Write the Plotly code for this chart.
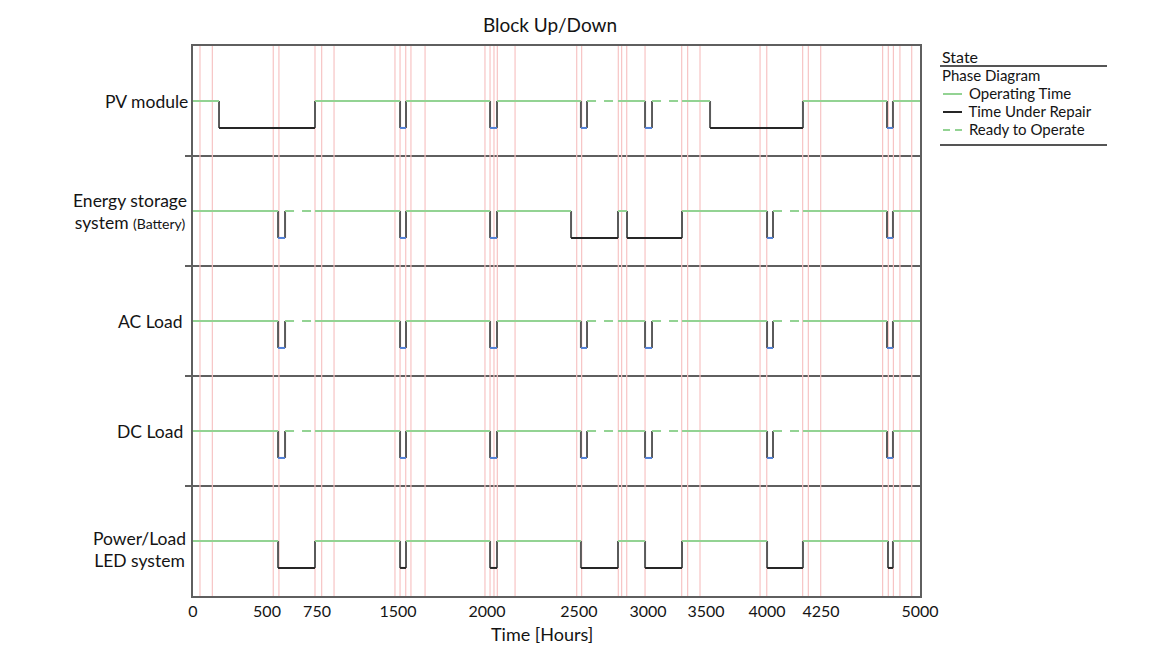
import plotly.graph_objects as go

# ---------------- data (hours) ----------------
components = ["PV module", "Energy storage system (Battery)", "AC Load", "DC Load", "Power/Load LED system"]
row_centers = [4, 3, 2, 1, 0]

# state codes: O = operating, R = under repair, W = short repair (blue), D = ready to operate
pv_times = [0, 179, 839, 1424, 1465, 2043, 2091, 2668, 2710, 2923, 3109, 3157, 3363, 3556, 4195, 4773, 4814, 5000]
pv_states = ["O", "R", "O", "W", "O", "W", "O", "W", "D", "O", "W", "D", "O", "R", "O", "W", "O"]

ess_times = [0, 585, 633, 839, 1424, 1465, 2043, 2091, 2600, 2923, 2985, 3363, 3948, 3989, 4195, 4773, 4814, 5000]
ess_states = ["O", "W", "D", "O", "W", "O", "W", "O", "R", "O", "R", "O", "W", "D", "O", "W", "O"]

ac_times = [0, 585, 633, 839, 1424, 1465, 2043, 2091, 2668, 2710, 2923, 3109, 3157, 3363, 3948, 3989, 4195, 4773, 4814, 5000]
ac_states = ["O", "W", "D", "O", "W", "O", "W", "O", "W", "D", "O", "W", "D", "O", "W", "D", "O", "W", "O"]

dc_times = [0, 585, 633, 839, 1424, 1465, 2043, 2091, 2668, 2710, 2923, 3109, 3157, 3363, 3948, 3989, 4195, 4773, 4814, 5000]
dc_states = ["O", "W", "D", "O", "W", "O", "W", "O", "W", "D", "O", "W", "D", "O", "W", "D", "O", "W", "O"]

led_times = [0, 585, 839, 1424, 1465, 2043, 2091, 2668, 2923, 3109, 3363, 3948, 4195, 4780, 4814, 5000]
led_states = ["O", "R", "O", "R", "O", "R", "O", "R", "O", "R", "O", "R", "O", "R", "O"]

event_times = [48, 133, 552, 591, 839, 885, 970, 1389, 1424, 1463, 1499, 1596, 2008, 2043, 2070, 2093,
               2215, 2639, 2673, 2925, 2948, 2983, 3109, 3361, 3402, 3487, 3900, 3946, 4193, 4232,
               4317, 4743, 4782, 4817, 4862, 4943]

x_tick_vals = [0, 509, 853, 1410, 2022, 2654, 3129, 3528, 3948, 4319, 5000]
x_tick_text = ["0", "500", "750", "1500", "2000", "2500", "3000", "3500", "4000", "4250", "5000"]

legend_names = ["Operating Time", "Time Under Repair", "Ready to Operate"]

all_times = [pv_times, ess_times, ac_times, dc_times, led_times]
all_states = [pv_states, ess_states, ac_states, dc_states, led_states]

# ---------------- styles ----------------
GREEN = "#93d393"
BLACK = "#262626"
GRAY = "#5a5a5a"
BLUE = "#4f7fd6"
PINK = "#f7c4c4"
FRAME = "#5f5f5f"
TXT = "#141414"
DROP = 0.245
FONT = "Lato, 'Open Sans', sans-serif"

W, H = 1161, 645
L, R, T, B = 193, 920, 46, 596


def pxx(px):
    return (px - L) / (R - L)


def pxy(py):
    return (B - py) / (B - T)


segs = {k: ([], []) for k in "ORWD"}
vx, vy = [], []
for times, states, c in zip(all_times, all_states, row_centers):
    for i, st in enumerate(states):
        lvl = c if st in "OD" else c - DROP
        segs[st][0].extend([times[i], times[i + 1], None])
        segs[st][1].extend([lvl, lvl, None])
        if i > 0:
            prev_up = states[i - 1] in "OD"
            cur_up = st in "OD"
            if prev_up != cur_up:
                vx.extend([times[i], times[i], None])
                vy.extend([c, c - DROP, None])

fig = go.Figure()

# pink event markers
px_, py_ = [], []
for t in event_times:
    px_.extend([t, t, None])
    py_.extend([-0.5, 4.5, None])
fig.add_trace(go.Scatter(x=px_, y=py_, mode="lines", line=dict(color=PINK, width=1.2),
                         hoverinfo="skip", showlegend=False))

fig.add_trace(go.Scatter(x=vx, y=vy, mode="lines", line=dict(color=GRAY, width=2),
                         hoverinfo="skip", showlegend=False))
fig.add_trace(go.Scatter(x=segs["W"][0], y=segs["W"][1], mode="lines", line=dict(color=BLUE, width=2),
                         hoverinfo="skip", showlegend=False))
fig.add_trace(go.Scatter(x=segs["O"][0], y=segs["O"][1], mode="lines", line=dict(color=GREEN, width=2),
                         name=legend_names[0], showlegend=False))
fig.add_trace(go.Scatter(x=segs["R"][0], y=segs["R"][1], mode="lines", line=dict(color=BLACK, width=2),
                         name=legend_names[1], showlegend=False))
fig.add_trace(go.Scatter(x=segs["D"][0], y=segs["D"][1], mode="lines",
                         line=dict(color=GREEN, width=2, dash="9px,8px"),
                         name=legend_names[2], showlegend=False))


def big(s, size):
    return "<span style='font-size:%gpx'>%s</span>" % (size, s)


# row labels
LS = 17.5
label_texts = [big("PV module", LS),
               big("Energy storage", LS) + "<br>" + big("system ", LS) + big("(Battery)", 14),
               big("AC Load", LS), big("DC Load", LS),
               big("Power/Load", LS) + "<br>" + big("LED system", LS)]
label_y = [4.0, 3.0, 2.0, 1.0, -0.08]
label_base = [LS, 16.6, LS, LS, 16.6]
label_shift = [-3, -4, -9, -8, -5]
for txt, y, bs, xs in zip(label_texts, label_y, label_base, label_shift):
    fig.add_annotation(x=0, y=y, xref="paper", yref="y", text=txt, showarrow=False,
                       xanchor="right", yanchor="middle", align="center", xshift=xs,
                       font=dict(size=bs, color=TXT, family=FONT))

# x-axis title
fig.add_annotation(x=pxx(542), y=pxy(634), xref="paper", yref="paper", text="Time [Hours]",
                   showarrow=False, xanchor="center", yanchor="middle",
                   font=dict(size=18, color=TXT, family=FONT))

# ---------------- manual legend ----------------
fig.add_annotation(x=pxx(940), y=pxy(56), xref="paper", yref="paper", text="State", showarrow=False,
                   xanchor="left", yanchor="middle", font=dict(size=16, color=TXT, family=FONT))
for yy in [66, 145]:
    fig.add_shape(type="line", xref="paper", yref="paper", x0=pxx(940), x1=pxx(1107), y0=pxy(yy), y1=pxy(yy),
                  line=dict(color="#555", width=2))
legend_rows = [(94, GREEN, "solid"), (112, BLACK, "solid"), (130, GREEN, "7px,5px")]
for yy, col, dash in legend_rows:
    fig.add_shape(type="line", xref="paper", yref="paper", x0=pxx(943), x1=pxx(962), y0=pxy(yy), y1=pxy(yy),
                  line=dict(color=col, width=2, dash=dash))
legend_block = "<br>".join([big("Phase Diagram", 15)] +
                           [big("&nbsp;&nbsp;&nbsp;&nbsp;&nbsp;&nbsp;&nbsp;" + n, 15) for n in legend_names])
fig.add_annotation(x=pxx(940), y=pxy(101.5), xref="paper", yref="paper", text=legend_block, showarrow=False,
                   xanchor="left", yanchor="middle", align="left",
                   font=dict(size=13.85, color=TXT, family=FONT))

fig.update_layout(
    width=W, height=H,
    margin=dict(l=L, r=W - R, t=T, b=H - B),
    paper_bgcolor="white", plot_bgcolor="white",
    font=dict(family=FONT, size=16, color=TXT),
    showlegend=False,
    title=dict(text="Block Up/Down", x=550 / W, xanchor="center", y=1 - 25 / H, yanchor="middle",
               font=dict(size=19, color=TXT)),
    xaxis=dict(range=[0, 5000], tickvals=x_tick_vals, ticktext=x_tick_text, showgrid=False,
               zeroline=False, showline=True, mirror=True, linecolor=FRAME, linewidth=2, ticks="",
               tickfont=dict(size=16, color=TXT)),
    yaxis=dict(range=[-0.5, 4.5], tickvals=[0.5, 1.5, 2.5, 3.5], showticklabels=False,
               ticks="outside", ticklen=6, tickcolor=FRAME, tickwidth=2,
               showgrid=True, gridcolor=FRAME, gridwidth=2, zeroline=False,
               showline=True, mirror=True, linecolor=FRAME, linewidth=2),
)

fig.write_html("out.html")
